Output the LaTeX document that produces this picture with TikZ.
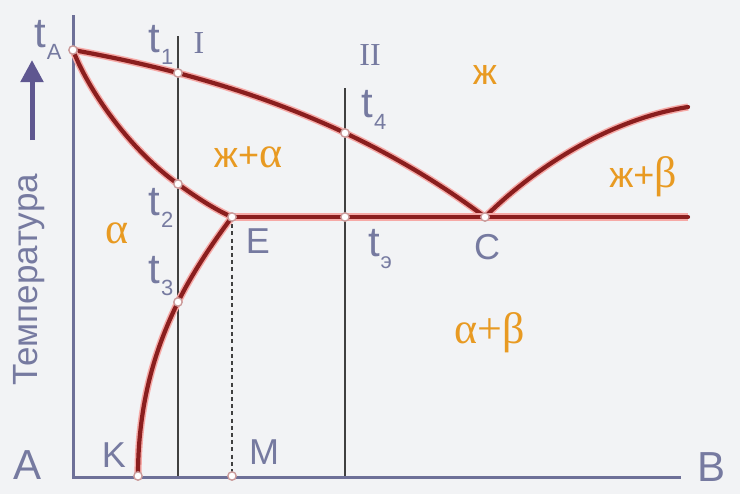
\documentclass[tikz,border=0pt]{standalone}
\usepackage{fontspec}
\setmainfont{Liberation Sans}
\newfontfamily\serifgr{Liberation Serif}
\usetikzlibrary{arrows.meta}
\definecolor{bgcol}{HTML}{F2F3F5}
\definecolor{axiscol}{HTML}{6E7098}
\definecolor{labcol}{HTML}{767AA0}
\definecolor{curvecol}{HTML}{8A1E1E}
\definecolor{glowcol}{HTML}{F6A9A6}
\definecolor{phasecol}{HTML}{E89A22}
\definecolor{arrowcol}{HTML}{5F5790}
\newcommand{\tsub}[1]{t\kern0.4pt\raisebox{-0.55ex}{\fontsize{11}{11}\selectfont #1}}

\begin{document}
\begin{tikzpicture}[x=0.5pt,y=-0.5pt,
  axis/.style={axiscol, line width=1.5pt},
  section/.style={black!75, line width=0.8pt},
  phase/.style={curvecol, line width=2.1pt, line cap=round, line join=round,
    preaction={draw=glowcol, line width=3.6pt}},
  dot/.style={fill=white, draw=curvecol!45, line width=0.7pt},
  lab/.style={labcol, font=\fontsize{18}{18}\selectfont},
  tlab/.style={labcol, font=\fontsize{21}{21}\selectfont},
  region/.style={phasecol, font=\fontsize{18}{18}\selectfont}]

% Background and frame
\fill[bgcol] (0,0) rectangle (740,494);
\useasboundingbox (0,0) rectangle (740,494);

% Points of the diagram
\coordinate (tA) at (73,50);
\coordinate (t1) at (178,73);
\coordinate (t2) at (178,184);
\coordinate (t3) at (178,302);
\coordinate (t4) at (345,133);
\coordinate (te) at (345,217);
\coordinate (E) at (232,217);
\coordinate (C) at (485,217);
\coordinate (Eend) at (688,217);
\coordinate (Bend) at (688,107);
\coordinate (K) at (138,476);
\coordinate (M) at (232,476);

% Axes
\draw[axis, line join=miter] (73,15) -- (73,477) -- (681,477);

% Alloy sections I and II
\draw[section] (178,36) -- (178,476);
\draw[section] (345,88) -- (345,476);
\draw[section, dash pattern=on 2pt off 1.6pt] (E) -- (M);

% Phase lines
\draw[phase] (tA) .. controls (212,75) and (356,120) .. (C);
\draw[phase] (tA) .. controls (88,90) and (130,150) .. (t2)
    .. controls (196,197) and (214,209) .. (E);
\draw[phase] (E) .. controls (214,241) and (194,270) .. (t3)
    .. controls (157,345) and (138,400) .. (K);
\draw[phase] (C) .. controls (530,172) and (605,120) .. (Bend);
\draw[phase] (E) -- (Eend);

% Marked points
\foreach \p in {tA,t1,t2,t3,t4,te,E,C,K,M}
    \filldraw[dot] (\p) circle (2.1pt);

% Temperature axis
\coordinate (arrtail) at (32,140);
\coordinate (arrtip) at (32,60);
\draw[arrowcol, line width=2.5pt, -{Triangle[length=11pt,width=11pt]}] (arrtail) -- (arrtip);
\node[labcol, rotate=90, font=\fontsize{17.5}{17.5}\selectfont] (temp) at (29,280) {Температура};

% Labels
\node[tlab] (labtA) at (48,40) {\tsub{A}};
\node[tlab] (labt1) at (161,45) {\tsub{1}};
\node[tlab] (labt2) at (161,208) {\tsub{2}};
\node[tlab] (labt3) at (161,276) {\tsub{3}};
\node[tlab] (labt4) at (374,110) {\tsub{4}};
\node[tlab] (labte) at (380,249) {\tsub{э}};
\node[labcol, font=\serifgr\fontsize{16}{16}\selectfont] (labI) at (199,43) {I};
\node[labcol, font=\serifgr\fontsize{16}{16}\selectfont] (labII) at (370,55) {II};
\node[lab] (labE) at (258,241) {E};
\node[lab] (labC) at (487,247) {C};
\node[lab] (labK) at (114,455) {K};
\node[lab] (labM) at (264,452) {M};
\node[labcol, font=\fontsize{21}{21}\selectfont] (labA) at (28,465) {A};
\node[labcol, font=\fontsize{21}{21}\selectfont] (labB) at (712,467) {B};

% Phase regions
\node[region] (liq) at (485,75) {ж};
\node[region] (liqa) at (248,157) {ж+{\serifgr\fontsize{22}{22}\selectfont α}};
\node[region] (liqb) at (643,177) {ж+{\serifgr\fontsize{22}{22}\selectfont β}};
\node[region, font=\serifgr\fontsize{22}{22}\selectfont] (alpha) at (117,233) {α};
\node[region, font=\serifgr\fontsize{22}{22}\selectfont] (ab) at (490,333) {α+β};
\end{tikzpicture}
\end{document}
